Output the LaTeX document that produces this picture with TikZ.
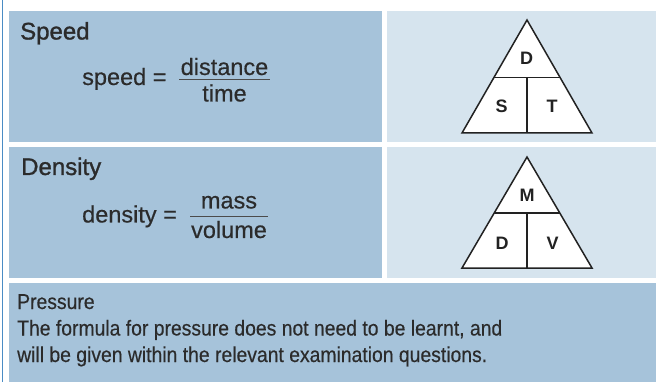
\documentclass[tikz,border=0pt]{standalone}
\usepackage{graphicx}
\usepackage{fontspec}
\setmainfont{Liberation Sans}
\newfontfamily\headfont[FakeBold=1.2]{Liberation Sans}
\newfontfamily\bodyfont[FakeBold=0.4]{Liberation Sans}
\newcommand{\narrowtxt}[1]{\scalebox{0.9}[1]{#1}}
\definecolor{cellA}{HTML}{A6C3DA}
\definecolor{cellB}{HTML}{D6E4EE}
\definecolor{ink}{HTML}{2B2B2B}
\definecolor{edge}{HTML}{4A8CC4}
\definecolor{tri}{HTML}{222222}
\tikzset{
  head/.style={anchor=base west, inner sep=0pt, text=ink, font=\headfont\fontsize{24}{26}\selectfont},
  body/.style={anchor=base west, inner sep=0pt, text=ink, font=\bodyfont\fontsize{21.5}{24}\selectfont},
  formula/.style={anchor=base west, inner sep=0pt, text=ink, font=\bodyfont\fontsize{23.5}{26}\selectfont},
  fracpart/.style={anchor=base, inner sep=0pt, text=ink, font=\bodyfont\fontsize{23.5}{26}\selectfont},
  fracbar/.style={draw=ink!85, line width=1.6pt},
  trishape/.style={draw=tri, fill=white, line width=1.5pt, line join=miter},
  triline/.style={draw=tri, line width=1.5pt},
  trilabel/.style={inner sep=0pt, text=tri, font=\bfseries\fontsize{18}{20}\selectfont}
}
\begin{document}
\begin{tikzpicture}[x=1pt,y=-1pt]
\useasboundingbox (0,0) rectangle (656,382);
\fill[white] (0,0) rectangle (656,382);
\fill[edge] (2,0) rectangle (3.2,382);
% cells
\fill[cellA] (9,11) rectangle (382,142);
\fill[cellB] (387,11) rectangle (656,142);
\fill[cellA] (9,147) rectangle (382,278);
\fill[cellB] (387,147) rectangle (656,278);
\fill[cellA] (9,283) rectangle (656,382);

% Speed
\node[head] (h1) at (20,39.5) {Speed};
\node[formula] (f1) at (82,85) {speed =};
\node[fracpart] (n1) at (224.5,75) {distance};
\node[fracpart] (d1) at (224.5,101.5) {time};
\draw[fracbar] (179,79.5) -- (270,79.5);

% Density
\node[head] (h2) at (21,175) {Density};
\node[formula] (f2) at (82,222.5) {density =};
\node[fracpart] (n2) at (229,208.5) {mass};
\node[fracpart] (d2) at (229,238) {volume};
\draw[fracbar] (190,216.5) -- (268,216.5);

% Pressure
\node[body] (h3) at (17,309) {\narrowtxt{Pressure}};
\node[body] (p1) at (17,335.5) {\narrowtxt{The formula for pressure does not need to be learnt, and}};
\node[body] (p2) at (17,362) {\narrowtxt{will be given within the relevant examination questions.}};

% Triangle 1
\coordinate (t1a) at (527,20);
\coordinate (t1l) at (462,133);
\coordinate (t1r) at (592,133);
\draw[trishape] (t1a) -- (t1l) -- (t1r) -- cycle;
\coordinate (t1ml) at (494.2,77.5);
\coordinate (t1mr) at (559.8,77.5);
\coordinate (t1mb) at (527,133);
\coordinate (t1mt) at (527,77.5);
\draw[triline] (t1ml) -- (t1mr);
\draw[triline] (t1mt) -- (t1mb);
\node[trilabel] (lD1) at (526.5,58.7) {D};
\node[trilabel] (lS1) at (501.7,106.7) {S};
\node[trilabel] (lT1) at (552,106.7) {T};

% Triangle 2
\coordinate (t2a) at (527,157);
\coordinate (t2l) at (462,268);
\coordinate (t2r) at (592,268);
\draw[trishape] (t2a) -- (t2l) -- (t2r) -- cycle;
\coordinate (t2ml) at (494.2,213);
\coordinate (t2mr) at (559.8,213);
\coordinate (t2mb) at (527,268);
\coordinate (t2mt) at (527,213);
\draw[triline] (t2ml) -- (t2mr);
\draw[triline] (t2mt) -- (t2mb);
\node[trilabel] (lM2) at (527,195) {M};
\node[trilabel] (lD2) at (502,243) {D};
\node[trilabel] (lV2) at (552.5,243) {V};
\end{tikzpicture}
\end{document}
